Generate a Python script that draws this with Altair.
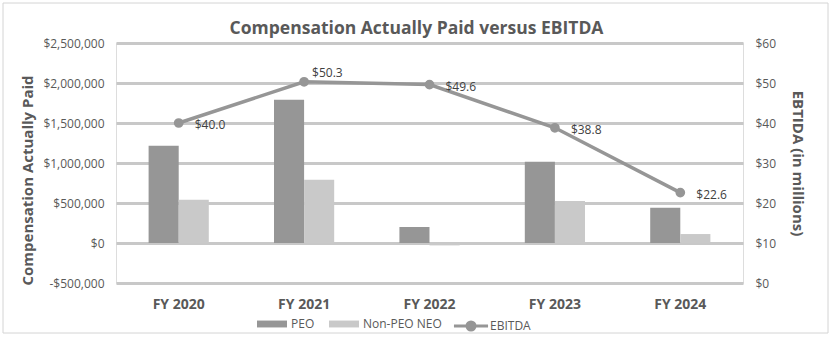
import altair as alt
import pandas as pd

years = ["FY 2020", "FY 2021", "FY 2022", "FY 2023", "FY 2024"]
peo = [1215000, 1790000, 200000, 1015000, 440000]
non_peo = [540000, 790000, -30000, 525000, 112000]
ebitda = [40.0, 50.3, 49.6, 38.8, 22.6]
series_names = ["PEO", "Non-PEO NEO"]
line_name = "EBITDA"
left_ticks = [-500000, 0, 500000, 1000000, 1500000, 2000000, 2500000]
right_ticks = [0, 10, 20, 30, 40, 50, 60]

bars_df = pd.DataFrame({
    "year": years * 2,
    "series": [series_names[0]] * 5 + [series_names[1]] * 5,
    "value": peo + non_peo,
})
line_df = pd.DataFrame({
    "year": years,
    "ebitda": ebitda,
    "metric": [line_name] * 5,
    "label": ["$%.1f" % v for v in ebitda],
})

W, H = 627, 240
FONT = "Open Sans"
TXT = "#595959"
DARK = "#969696"
LIGHT = "#c9c9c9"
GRID = "#c8c8c8"

xenc = alt.X(
    "year:N", sort=years,
    scale=alt.Scale(paddingInner=0.52, paddingOuter=0.26),
    axis=alt.Axis(title=None, labelAngle=0, labelFont=FONT, labelFontWeight="bold",
                  labelFontSize=14, labelColor=TXT, ticks=False, domain=False,
                  labelPadding=14, grid=False),
)

bars = alt.Chart(bars_df).mark_bar().encode(
    x=xenc,
    xOffset=alt.XOffset("series:N", sort=series_names,
                        scale=alt.Scale(domain=series_names, paddingInner=0, paddingOuter=0)),
    y=alt.Y("value:Q",
            scale=alt.Scale(domain=[-500000, 2500000], nice=False, zero=False),
            axis=alt.Axis(values=left_ticks,
                          labelExpr="datum.value < 0 ? '-$' + format(-datum.value, ',') : '$' + format(datum.value, ',')",
                          grid=True, gridColor=GRID, gridWidth=3, ticks=False, domain=False,
                          labelPadding=12, labelFont=FONT, labelFontSize=12, labelColor=TXT,
                          title="Compensation Actually Paid", titleFont=FONT, titleFontSize=15,
                          titleFontWeight="bold", titleColor=TXT, titleX=-89, titleY=137,
                          titleAngle=270, titleAlign="center", titleBaseline="middle")),
    color=alt.Color("series:N",
                    scale=alt.Scale(domain=series_names, range=[DARK, LIGHT]),
                    legend=alt.Legend(title=None, orient="none", direction="horizontal",
                                      legendX=141, legendY=266,
                                      symbolType="M-1,-0.23H1V0.23H-1Z", symbolSize=900,
                                      symbolStrokeWidth=0, labelFont=FONT, labelFontSize=12,
                                      labelColor=TXT, labelOffset=4, columnPadding=14)),
)

yright = alt.Y("ebitda:Q",
               scale=alt.Scale(domain=[0, 60], nice=False),
               axis=alt.Axis(orient="right", values=right_ticks, labelExpr="'$' + datum.value",
                             grid=False, ticks=False, domain=False, labelPadding=12,
                             labelFont=FONT, labelFontSize=12, labelColor=TXT,
                             title="EBTIDA (in millions)", titleFont=FONT, titleFontSize=15,
                             titleFontWeight="bold", titleColor=TXT, titleX=54, titleY=120,
                             titleAngle=90, titleAlign="center", titleBaseline="middle"))

line = alt.Chart(line_df).mark_line(
    strokeWidth=3.5,
    point=alt.OverlayMarkDef(filled=True, size=60, color=DARK),
).encode(
    x=xenc,
    y=yright,
    stroke=alt.Stroke("metric:N", scale=alt.Scale(domain=[line_name], range=[DARK]),
                      legend=alt.Legend(title=None, orient="none", direction="horizontal",
                                        legendX=338, legendY=266,
                                        symbolType="M-1.1,0H1.1M0.26,0A0.26,0.26 0 1,1 -0.26,0A0.26,0.26 0 1,1 0.26,0Z",
                                        symbolSize=961, symbolStrokeWidth=3,
                                        symbolFillColor=DARK, labelFont=FONT,
                                        labelFontSize=12, labelColor=TXT, labelOffset=2)),
)

txt_common = dict(font=FONT, fontSize=12, color="#404040", align="left", baseline="middle")
labels_main = alt.Chart(line_df).transform_filter(
    alt.datum.year != years[1]
).mark_text(dx=16, dy=2, **txt_common).encode(x=xenc, y=yright, text="label:N")
labels_top = alt.Chart(line_df).transform_filter(
    alt.datum.year == years[1]
).mark_text(dx=8, dy=-9, **txt_common).encode(x=xenc, y=yright, text="label:N")

right_layer = alt.layer(line, labels_main, labels_top)

border = alt.Chart(pd.DataFrame({"a": [0]})).mark_rect(
    fill=None, stroke="#d4d4d4", strokeWidth=1
).encode(x=alt.value(-113), x2=alt.value(712), y=alt.value(-40), y2=alt.value(290))

chart = alt.layer(border, bars, right_layer).resolve_scale(
    y="independent", color="independent"
).properties(
    width=W, height=H,
    autosize="none",
    padding={"left": 116, "top": 43, "right": 91, "bottom": 59},
    title=alt.TitleParams("Compensation Actually Paid versus EBITDA", font=FONT, fontSize=17.5,
                          fontWeight="bold", color=TXT, anchor="middle", frame="group",
                          dx=-13, offset=-35),
).configure_view(stroke=None).configure(background="white")

chart.save("out.html", embed_options={"renderer": "svg", "actions": False})
